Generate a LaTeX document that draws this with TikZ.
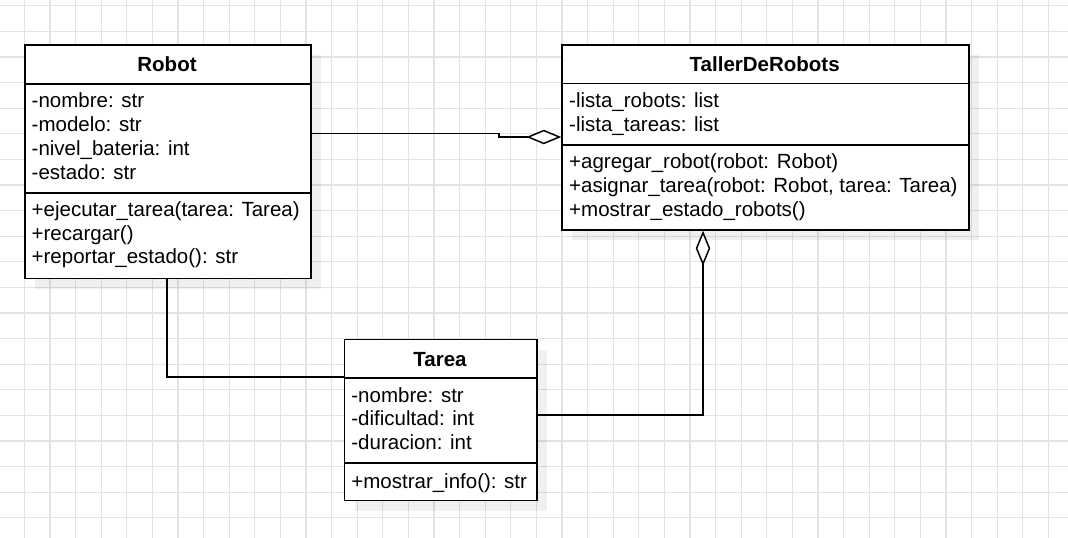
\documentclass[tikz,border=0pt]{standalone}
\usepackage{fontspec}
\setmainfont{Liberation Sans}
\usetikzlibrary{arrows.meta}
\newcommand{\classfont}{\fontsize{20.5pt}{24pt}\selectfont}
\tikzset{
  gridline/.style={draw=black!11, line width=1.2pt},
  shadowbox/.style={fill=black, fill opacity=0.06, draw=none},
  classbox/.style={draw=black, line width=1.5pt, fill=white, anchor=north west, inner sep=0pt},
  sepline/.style={draw=black, line width=1.5pt},
  txt/.style={anchor=base west, inner sep=0pt, font=\classfont},
  hdr/.style={anchor=base, inner sep=0pt, font=\classfont\bfseries},
  conn/.style={draw=black, line width=1.5pt},
  agg/.style={-{Diamond[open, fill=white, length=35pt, width=14.5pt, line width=1.5pt]}}
}
\begin{document}
\begin{tikzpicture}[x=1pt, y=-1pt]
\useasboundingbox (0,0) rectangle (1068,538);
% grid
\foreach \i in {-1,...,41} { \draw[gridline] ({24.3+25.6*\i},0) -- ({24.3+25.6*\i},538); }
\foreach \j in {0,...,20} { \draw[gridline] (0,{5.8+25.6*\j}) -- (1068,{5.8+25.6*\j}); }
% shadows
\fill[shadowbox] (35,55) rectangle (321,288.5);
\fill[shadowbox] (572.3,55.3) rectangle (979,240.3);
\fill[shadowbox] (354.7,349.7) rectangle (547.3,510.7);
% boxes
\node[classbox, minimum width=286pt, minimum height=233.5pt] (robot) at (24,44) {};
\node[classbox, minimum width=406.7pt, minimum height=185pt] (taller) at (561.3,44.3) {};
\node[classbox, minimum width=192.6pt, minimum height=161pt] (tarea) at (343.7,338.7) {};
% separators
\draw[sepline] ([yshift=-40pt]robot.north west) -- ([yshift=-40pt]robot.north east);
\draw[sepline] ([yshift=-149pt]robot.north west) -- ([yshift=-149pt]robot.north east);
\draw[sepline] ([yshift=-39.4pt]taller.north west) -- ([yshift=-39.4pt]taller.north east);
\draw[sepline] ([yshift=-100.7pt]taller.north west) -- ([yshift=-100.7pt]taller.north east);
\draw[sepline] ([yshift=-39.3pt]tarea.north west) -- ([yshift=-39.3pt]tarea.north east);
\draw[sepline] ([yshift=-124.3pt]tarea.north west) -- ([yshift=-124.3pt]tarea.north east);
% Robot text
\node[hdr] (robotname) at (167,71.6) {Robot};
\node[txt] (ra1) at (31.5,107.5) {-nombre: str};
\node[txt] (ra2) at (31.5,131.5) {-modelo: str};
\node[txt] (ra3) at (31.5,155.5) {-nivel\_bateria: int};
\node[txt] (ra4) at (31.5,179.5) {-estado: str};
\node[txt] (rm1) at (31.5,216.5) {+ejecutar\_tarea(tarea: Tarea)};
\node[txt] (rm2) at (31.5,240) {+recargar()};
\node[txt] (rm3) at (31.5,263.5) {+reportar\_estado(): str};
% Taller text
\node[hdr] (tallername) at (764.7,71.7) {TallerDeRobots};
\node[txt] (ta1) at (569,107.5) {-lista\_robots: list};
\node[txt] (ta2) at (569,131.5) {-lista\_tareas: list};
\node[txt] (tm1) at (569,168.3) {+agregar\_robot(robot: Robot)};
\node[txt] (tm2) at (569,192.3) {+asignar\_tarea(robot: Robot, tarea: Tarea)};
\node[txt] (tm3) at (569,216) {+mostrar\_estado\_robots()};
% Tarea text
\node[hdr] (tareaname) at (440,366) {Tarea};
\node[txt] (ka1) at (351.2,402) {-nombre: str};
\node[txt] (ka2) at (351.2,425.7) {-dificultad: int};
\node[txt] (ka3) at (351.2,449.3) {-duracion: int};
\node[txt] (km1) at (351.2,488) {+mostrar\_info(): str};
% connectors
\draw[conn, agg] ([yshift=-89.7pt]robot.north east) -- ++(187.3pt,0pt) -- ++(0pt,-3.3pt) -- ([yshift=-92.7pt]taller.north west);
\draw[conn] ([xshift=-1pt]robot.south) |- ([yshift=-38.3pt]tarea.north west);
\draw[conn, agg] ([yshift=-76.3pt]tarea.north east) -| ([xshift=-62.4pt]taller.south);
\end{tikzpicture}
\end{document}
